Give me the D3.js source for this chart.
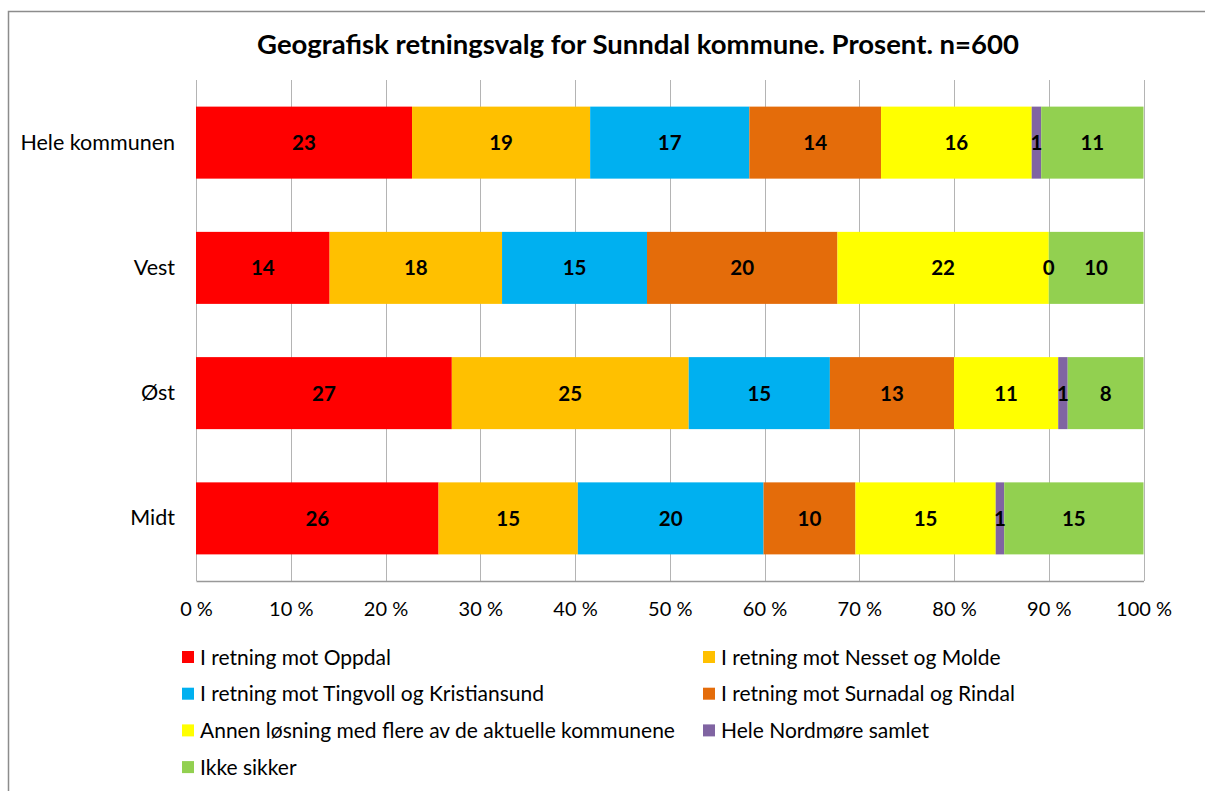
<!DOCTYPE html>
<html>
<head>
<meta charset="utf-8">
<script src="https://cdn.jsdelivr.net/npm/d3@7"></script>
<style>
  body { margin: 0; background: #fff; }
  svg { display: block; font-family: Lato, "Open Sans", sans-serif; }
</style>
</head>
<body>
<div id="chart"></div>
<script>
// categories (top to bottom)
var categories = ["Hele kommunen", "Vest", "Øst", "Midt"];

// series names (stack order, left to right)
var seriesNames = [
  "I retning mot Oppdal",
  "I retning mot Nesset og Molde",
  "I retning mot Tingvoll og Kristiansund",
  "I retning mot Surnadal og Rindal",
  "Annen løsning med flere av de aktuelle kommunene",
  "Hele Nordmøre samlet",
  "Ikke sikker"
];

// percent values per series, in category order
var oppdal     = [22.8, 14.1, 27.0, 25.6];
var molde      = [18.8, 18.2, 25.0, 14.7];
var kristians  = [16.8, 15.3, 14.9, 19.6];
var surnadal   = [13.9, 20.1, 13.1, 9.7];
var annen      = [15.9, 22.3, 11.0, 14.8];
var nordmore   = [1.0, 0.0, 1.0, 0.9];
var ikkeSikker = [10.8, 10.0, 8.0, 14.7];

var xTicks = [0, 10, 20, 30, 40, 50, 60, 70, 80, 90, 100];

var colors = ["#ff0000", "#ffc000", "#00b0f0", "#e46c0a", "#ffff00", "#8064a2", "#92d050"];

var seriesValues = [oppdal, molde, kristians, surnadal, annen, nordmore, ikkeSikker];

// build rows for the stack
var rows = categories.map(function(c, i) {
  var r = { cat: c };
  seriesNames.forEach(function(s, j) { r[s] = seriesValues[j][i]; });
  return r;
});

var svgWidth = 1205;
var svgHeight = 791;

var margin = { top: 80, left: 196, right: 62, bottom: 210 };
var width = 1143.5 - margin.left;
var height = 581 - margin.top;

var svg = d3.select("#chart")
  .append("svg")
  .attr("width", svgWidth)
  .attr("height", svgHeight);

// outer chart frame
svg.append("rect")
  .attr("x", 8.5)
  .attr("y", 11.5)
  .attr("width", 1300)
  .attr("height", 900)
  .attr("fill", "none")
  .attr("stroke", "#8c8c8c")
  .attr("stroke-width", 1.5);

svg.append("text")
  .attr("x", 638)
  .attr("y", 54)
  .attr("text-anchor", "middle")
  .attr("font-size", "27.5px")
  .attr("font-weight", "bold")
  .attr("fill", "#000")
  .text("Geografisk retningsvalg for Sunndal kommune. Prosent. n=600");

var chartGroup = svg.append("g")
  .attr("transform", `translate(${margin.left}, ${margin.top})`);

var xScale = d3.scaleLinear()
  .domain([0, 100])
  .range([0, width]);

var yScale = d3.scaleBand()
  .domain(categories)
  .range([0, height])
  .paddingInner(0.425)
  .paddingOuter(0.2125);

// gridlines
chartGroup.append("g")
  .selectAll("line")
  .data(xTicks)
  .enter()
  .append("line")
  .attr("x1", d => Math.round(xScale(d)) + 0.5)
  .attr("x2", d => Math.round(xScale(d)) + 0.5)
  .attr("y1", 0)
  .attr("y2", height)
  .attr("stroke", "#b4b4b4")
  .attr("stroke-width", 1);

// bottom axis
var bottomAxis = d3.axisBottom(xScale)
  .tickValues(xTicks)
  .tickSize(0)
  .tickPadding(21)
  .tickFormat(d => d + " %");

var xAxisG = chartGroup.append("g")
  .attr("transform", `translate(0, ${height})`)
  .call(bottomAxis);
xAxisG.select(".domain").attr("stroke", "#999").attr("stroke-width", 1.3);
xAxisG.selectAll("text")
  .attr("font-size", "20px")
  .attr("font-family", "Lato, sans-serif")
  .attr("fill", "#000");

// left axis labels
var leftAxis = d3.axisLeft(yScale).tickSize(0).tickPadding(21);
var yAxisG = chartGroup.append("g").call(leftAxis);
yAxisG.select(".domain").remove();
yAxisG.selectAll("text")
  .attr("font-size", "21.5px")
  .attr("font-family", "Lato, sans-serif")
  .attr("fill", "#000");

// stacked bars
var stack = d3.stack().keys(seriesNames);
var stacked = stack(rows);

var layers = chartGroup.selectAll(".layer")
  .data(stacked)
  .enter()
  .append("g")
  .attr("class", "layer")
  .attr("fill", (d, i) => colors[i]);

layers.selectAll("rect")
  .data(d => d)
  .enter()
  .append("rect")
  .attr("x", d => xScale(d[0]))
  .attr("y", d => yScale(d.data.cat))
  .attr("width", d => xScale(d[1]) - xScale(d[0]))
  .attr("height", yScale.bandwidth());

// value labels, drawn over all bars
var labelData = [];
stacked.forEach(function(layer) {
  layer.forEach(function(p) { labelData.push({ p: p, key: layer.key }); });
});

chartGroup.append("g")
  .selectAll("text")
  .data(labelData)
  .enter()
  .append("text")
  .attr("x", d => xScale((d.p[0] + d.p[1]) / 2))
  .attr("y", d => yScale(d.p.data.cat) + yScale.bandwidth() / 2)
  .attr("dy", "0.36em")
  .attr("text-anchor", "middle")
  .attr("font-size", "20.5px")
  .attr("font-weight", "bold")
  .attr("fill", "#000")
  .text(d => d3.format(".0f")(d.p.data[d.key]));

// legend, two columns
var legend = svg.append("g");
var legendItems = legend.selectAll("g")
  .data(seriesNames)
  .enter()
  .append("g")
  .attr("transform", (d, i) => `translate(${i % 2 === 0 ? 182 : 703}, ${657 + Math.floor(i / 2) * 36.7})`);

legendItems.append("rect")
  .attr("x", 0)
  .attr("y", -6)
  .attr("width", 12)
  .attr("height", 12)
  .attr("fill", (d, i) => colors[i]);

legendItems.append("text")
  .attr("x", 18)
  .attr("y", 0)
  .attr("dy", "0.36em")
  .attr("font-size", "21px")
  .attr("fill", "#000")
  .text(d => d);
</script>
</body>
</html>
